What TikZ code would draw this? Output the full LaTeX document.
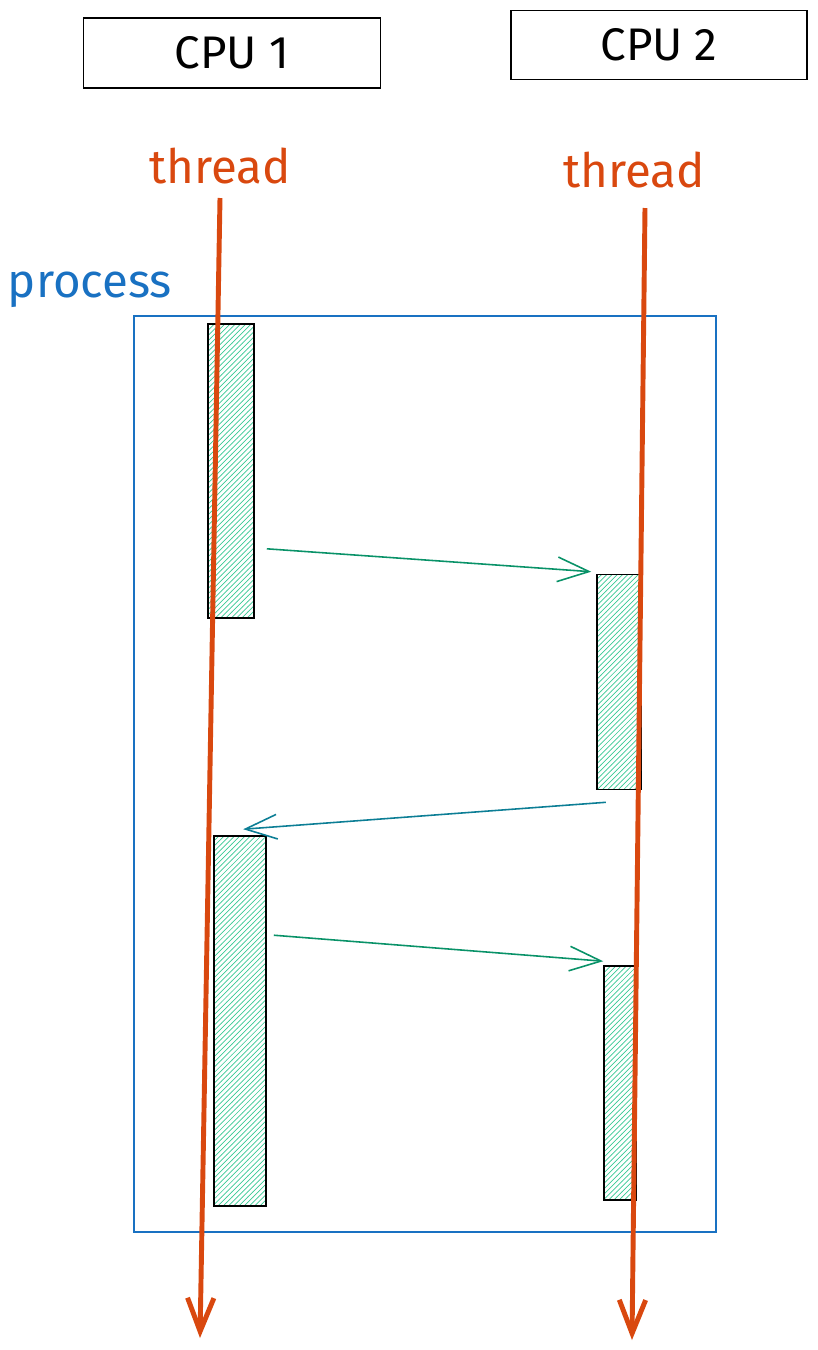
\documentclass[tikz,border=0pt]{standalone}
\usepackage{fontspec}
\setmainfont{Fira Sans}
\usetikzlibrary{arrows.meta,patterns}

\definecolor{threadred}{HTML}{D9480F}
\definecolor{procblue}{HTML}{1971C2}
\definecolor{msggreen}{HTML}{099268}
\definecolor{msgteal}{HTML}{0C7E95}
\definecolor{hatch}{HTML}{38C994}

\newcommand{\pxu}{0.02cm}

\begin{document}
\begin{tikzpicture}[x=0.02cm, y=-0.02cm,
    every node/.style={inner sep=0pt},
    cpubox/.style={draw, line width=1.1pt, minimum width=297*\pxu, minimum height=70*\pxu, font=\fontsize{26}{30}\selectfont},
    threadlbl/.style={text=threadred, font=\fontsize{27}{31}\selectfont},
    threadline/.style={draw=threadred, line width=2.8pt, -{Straight Barb[length=19pt,width=15pt]}},
    bar/.style={draw, line width=0.9pt, pattern=north east lines, pattern color=hatch},
    msg/.style={line width=0.9pt, -{Straight Barb[length=18pt,width=14pt]}}]

    \useasboundingbox (0,0) rectangle (818,1350);

    % CPUs
    \node[cpubox] (cpu1) at (232,53) {CPU 1};
    \node[cpubox, minimum width=296*\pxu, minimum height=69*\pxu] (cpu2) at (659,45) {CPU 2};

    % process
    \node[text=procblue, font=\fontsize{27}{31}\selectfont] (proclbl) at (90,290) {process};
    \node[draw=procblue, line width=0.6pt, minimum width=582*\pxu, minimum height=916*\pxu] (proc) at (425,774) {};

    % busy periods
    \node[bar, minimum width=46*\pxu, minimum height=294*\pxu] (bar1) at (231,471) {};
    \node[bar, minimum width=44*\pxu, minimum height=215*\pxu] (bar2) at (619,682) {};
    \node[bar, minimum width=52*\pxu, minimum height=370*\pxu] (bar3) at (240,1021) {};
    \node[bar, minimum width=32*\pxu, minimum height=234*\pxu] (bar4) at (620,1083) {};

    % threads
    \node[threadlbl] (th1) at (220,166) {thread};
    \node[threadlbl] (th2) at (634,170) {thread};
    \coordinate (t1s) at (220,198);
    \coordinate (t1e) at (200,1338);
    \coordinate (t2s) at (645,208);
    \coordinate (t2e) at (632,1340);
    \draw[threadline] (t1s) -- (t1e);
    \draw[threadline] (t2s) -- (t2e);

    % messages
    \draw[msg, msggreen] ([shift={(12,-70)}]bar1.south east) -- ([shift={(-5,-2)}]bar2.north west);
    \draw[msg, msgteal] ([shift={(-36,12)}]bar2.south east) -- ([shift={(30,-6)}]bar3.north west);
    \draw[msg, msggreen] ([shift={(7,100)}]bar3.north east) -- ([shift={(0,-4)}]bar4.north west);
\end{tikzpicture}
\end{document}
